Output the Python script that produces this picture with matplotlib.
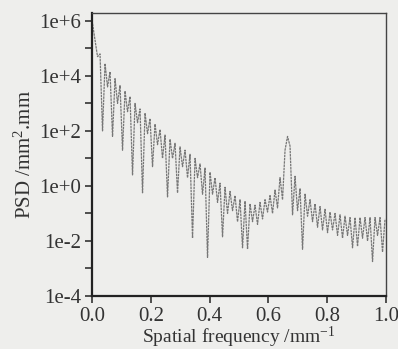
import matplotlib
matplotlib.use("Agg")
import matplotlib.pyplot as plt
from matplotlib.ticker import FixedLocator, FixedFormatter, NullFormatter
import numpy as np

# values (PSD given as log10 values)
startFreq = [0.002]
startLogPsd = [5.9]

peakFreq = [0.0105, 0.0275, 0.0445, 0.0615, 0.0785, 0.0955, 0.1125, 0.1295, 0.1465, 0.1635,
            0.1805, 0.1975, 0.2145, 0.2315, 0.2485, 0.2655, 0.2825, 0.2995, 0.3165, 0.3335,
            0.3505, 0.3675, 0.3845, 0.4015, 0.4185, 0.4355, 0.4525, 0.4695, 0.4865, 0.5035,
            0.5205, 0.5375, 0.5545, 0.5715, 0.5885, 0.6055, 0.6225, 0.6395, 0.6565, 0.6735,
            0.6905, 0.7075, 0.7245, 0.7415, 0.7585, 0.7755, 0.7925, 0.8095, 0.8265, 0.8435,
            0.8605, 0.8775, 0.8945, 0.9115, 0.9285, 0.9455, 0.9625, 0.9795, 0.9965]
peakLogPsd = [5.3, 4.8, 4.45, 4.15, 3.9, 3.65, 3.45, 3.25, 3.0, 2.8,
              2.65, 2.45, 2.25, 2.05, 1.85, 1.7, 1.55, 1.42, 1.3, 1.15,
              1.0, 0.8, 0.65, 0.5, 0.3, 0.1, -0.05, -0.2, -0.35, -0.5,
              -0.55, -0.65, -0.7, -0.6, -0.5, -0.35, -0.15, 0.3, 1.3, 1.45,
              0.35, -0.1, -0.3, -0.5, -0.65, -0.75, -0.85, -0.95, -1.0, -1.05,
              -1.1, -1.15, -1.15, -1.15, -1.15, -1.15, -1.15, -1.15, -1.2]

troughFreq = [0.019, 0.036, 0.053, 0.070, 0.087, 0.104, 0.121, 0.138, 0.155, 0.172,
              0.189, 0.206, 0.223, 0.240, 0.257, 0.274, 0.291, 0.308, 0.325, 0.342,
              0.359, 0.376, 0.393, 0.410, 0.427, 0.444, 0.461, 0.478, 0.495, 0.512,
              0.529, 0.546, 0.563, 0.580, 0.597, 0.614, 0.631, 0.648, 0.665, 0.682,
              0.699, 0.716, 0.733, 0.750, 0.767, 0.784, 0.801, 0.818, 0.835, 0.852,
              0.869, 0.886, 0.903, 0.920, 0.937, 0.954, 0.971, 0.988]
troughLogPsd = [4.7, 2.0, 3.6, 1.8, 3.0, 1.3, 2.7, 0.4, 2.3, -0.25,
                1.9, 0.7, 1.5, 1.0, -0.4, 1.0, -0.25, 0.7, 0.3, -1.9,
                0.3, -0.3, -2.6, -0.3, -0.6, -1.85, -1.0, -0.9, -1.3, -2.25,
                -2.3, -1.3, -1.4, -1.2, -0.95, -1.0, -0.8, -0.5, 1.8, -1.05,
                -0.9, -2.3, -1.1, -1.3, -1.5, -1.6, -1.7, -1.6, -1.8, -1.9,
                -1.8, -2.25, -2.2, -1.9, -2.0, -2.75, -1.8, -2.4]

majorTicks = [1e-4, 1e-2, 1e0, 1e2, 1e4, 1e6]
majorLabels = ["1e-4", "1e-2", "1e+0", "1e+2", "1e+4", "1e+6"]
minorTicks = [1e-3, 1e-1, 1e1, 1e3, 1e5]
xTicks = [0.0, 0.2, 0.4, 0.6, 0.8, 1.0]
xLabels = ["0.0", "0.2", "0.4", "0.6", "0.8", "1.0"]

plt.rcParams['font.family'] = ['Liberation Serif', 'DejaVu Serif']
plt.rcParams['mathtext.fontset'] = 'custom'
plt.rcParams['mathtext.rm'] = 'Liberation Serif'
plt.rcParams['mathtext.it'] = 'Liberation Serif:italic'

# merge peaks and troughs into one trace ordered by frequency
freq = np.array(startFreq + peakFreq + troughFreq)
logPsd = np.array(startLogPsd + peakLogPsd + troughLogPsd)
order = np.argsort(freq)
freq, psd = freq[order], 10.0 ** logPsd[order]

bg = "#eeeeec"
fig = plt.figure(figsize=(3.98, 3.49), dpi=100, facecolor=bg)
ax = fig.add_axes([0.231, 0.152, 0.739, 0.811], facecolor=bg)

ax.plot(freq, psd, color="#777777", linewidth=0.9, linestyle=(0, (2, 0.6)))
ax.set_yscale("log")
ax.set_xlim(0.0, 1.0)
ax.set_ylim(1e-4, 10 ** 6.29)

ax.yaxis.set_major_locator(FixedLocator(majorTicks))
ax.yaxis.set_major_formatter(FixedFormatter(majorLabels))
ax.yaxis.set_minor_locator(FixedLocator(minorTicks))
ax.yaxis.set_minor_formatter(NullFormatter())
ax.set_xticks(xTicks)
ax.set_xticklabels(xLabels)

ax.tick_params(axis="both", which="major", direction="out", length=5, width=1.2,
               labelsize=15, colors="#333333", pad=3)
ax.tick_params(axis="y", which="minor", direction="out", length=5, width=1.2, colors="#333333")

for side in ["left", "bottom"]:
    ax.spines[side].set_linewidth(1.6)
    ax.spines[side].set_color("#222222")
for side in ["top", "right"]:
    ax.spines[side].set_linewidth(1.0)
    ax.spines[side].set_color("#444444")

ax.set_xlabel(r"Spatial frequency /mm$^{\mathregular{-1}}$", fontsize=14, color="#333333", labelpad=-1)
ax.set_ylabel(r"PSD /mm$^{\mathregular{2}}$.mm", fontsize=15, color="#333333", labelpad=2)

fig.savefig("out.png", dpi=100, facecolor=bg)
